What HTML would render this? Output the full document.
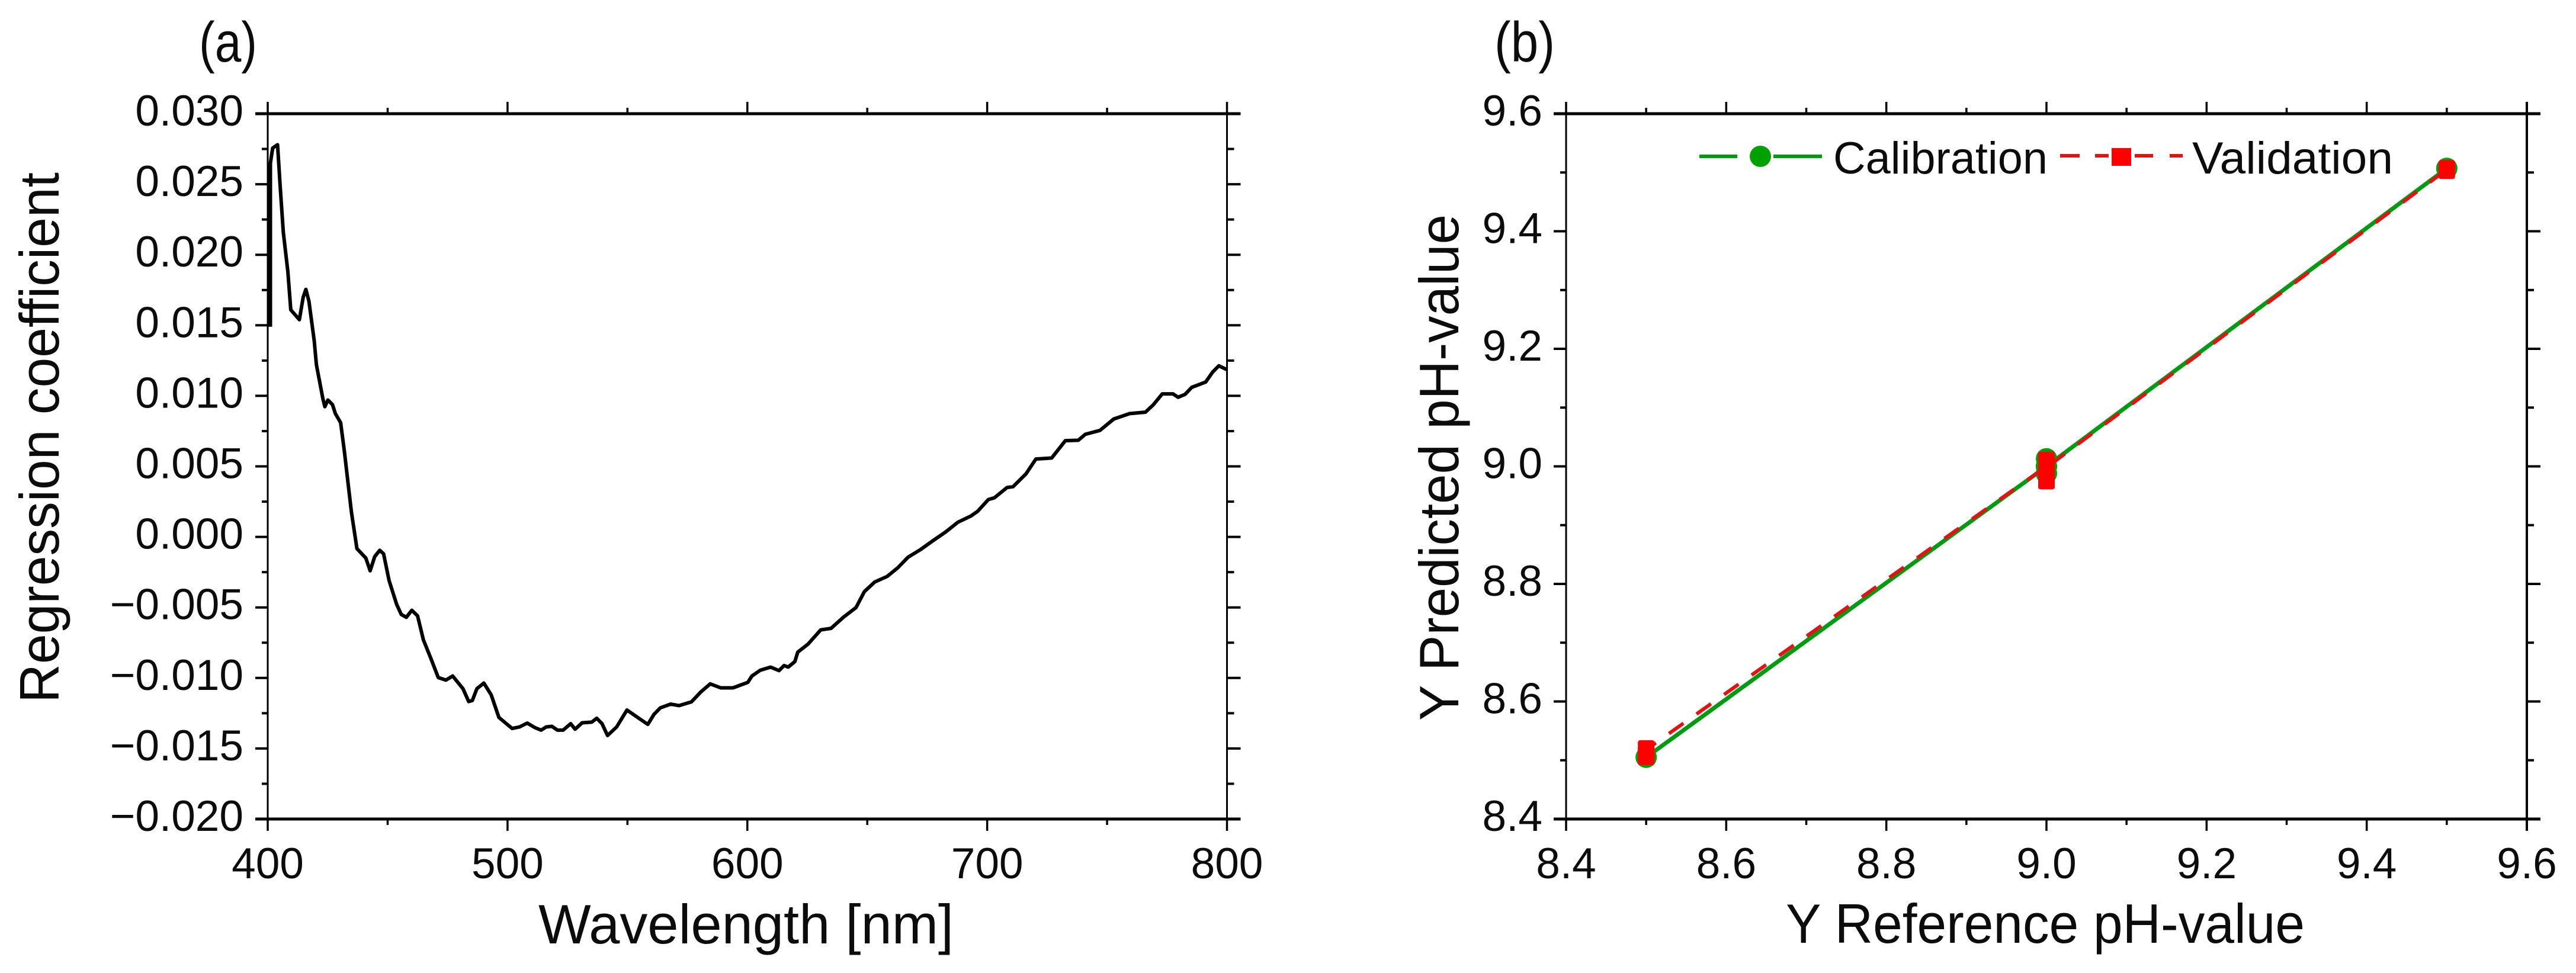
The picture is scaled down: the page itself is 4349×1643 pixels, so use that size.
<!DOCTYPE html>
<html lang="en">
<head>
<meta charset="utf-8">
<title>Regression coefficient and pH prediction charts</title>
<style>
  html,body{margin:0;padding:0;background:#fff;}
  svg{display:block;}
  text{font-family:"Liberation Sans",sans-serif;fill:#0c0c0c;}
  .tick-label{font-size:73px;}
  .axis-title{font-size:94px;}
  .panel-label{font-size:96px;}
  .legend-label{font-size:76px;}
</style>
</head>
<body>
<svg id="figure" xmlns="http://www.w3.org/2000/svg" width="4349" height="1643" viewBox="0 0 4349 1643">
  <rect x="0" y="0" width="4349" height="1643" fill="#ffffff"/>

  <g id="panel-a">
    <text class="panel-label" x="336" y="104" textLength="98" lengthAdjust="spacingAndGlyphs">(a)</text>
    <text class="axis-title" x="909" y="1593" textLength="701" lengthAdjust="spacingAndGlyphs">Wavelength [nm]</text>
    <text class="axis-title" transform="translate(99 1187) rotate(-90)" textLength="896" lengthAdjust="spacingAndGlyphs">Regression coefficient</text>
  </g>

  <g id="panel-b">
    <text class="panel-label" x="2523" y="104" textLength="102" lengthAdjust="spacingAndGlyphs">(b)</text>
    <text class="axis-title" x="3015" y="1592" textLength="876" lengthAdjust="spacingAndGlyphs">Y Reference pH-value</text>
    <text class="axis-title" transform="translate(2462 1217) rotate(-90)" textLength="855" lengthAdjust="spacingAndGlyphs">Y Predicted pH-value</text>

    <g>
      <g>
        <line x1="2869" y1="264" x2="2933" y2="264" stroke="#009a12" stroke-width="6"/>
        <line x1="2994" y1="264" x2="3076" y2="264" stroke="#009a12" stroke-width="6"/>
        <circle cx="2972" cy="264" r="18" fill="#00a000"/>
        <text class="legend-label" x="3095" y="293" textLength="362" lengthAdjust="spacingAndGlyphs">Calibration</text>
      </g>
      <g>
        <line x1="3478" y1="263" x2="3511" y2="263" stroke="#d81818" stroke-width="6"/>
        <line x1="3537" y1="263" x2="3560" y2="263" stroke="#d81818" stroke-width="6"/>
        <line x1="3604" y1="263" x2="3635" y2="263" stroke="#d81818" stroke-width="6"/>
        <line x1="3663" y1="263" x2="3685" y2="263" stroke="#d81818" stroke-width="6"/>
        <rect x="3565" y="250" width="33" height="30" fill="#ff0000"/>
        <text class="legend-label" x="3701" y="293" textLength="339" lengthAdjust="spacingAndGlyphs">Validation</text>
      </g>
    </g>
  </g>
</svg>

<script>
// ---- Panel (a) data ----
const wavelengths = [401.1,401.1,402.05,404.1,405.2,406.5,408.4,409.6,413.2,414.8,415.9,417.2,419.4,420.3,423,423.8,425.1,427,428.2,430.4,432,433.3,434.9,437.2,440.9,442.7,444.6,446.7,448.3,450.6,453.8,455.7,457.8,460.1,462.5,464.9,468,471.1,474.3,477.1,481.4,483.8,485.3,487.2,490.1,493.2,496.4,499.5,501.9,505,508.2,511.4,514,516.1,518.5,520.8,523.2,526.3,528.2,531.1,535.1,537.2,539.4,541.7,545.5,549.8,554.2,558.5,561.1,563.7,568,571.5,576.7,580.6,584.5,588.9,594,600.2,601.9,605.4,609.7,613.2,615.3,617,619.8,621,625.3,630.6,634.9,640.1,645.3,648.8,653.1,658.3,662.7,667,672.2,677.4,682.6,687.8,693.1,696,700.5,703,708.3,710.8,716.2,720.3,726.9,732.6,738,740.9,747,752.8,759.4,766,769.3,773,777.5,779.6,782.5,785.3,791.1,794,796.6,799.9];
const coefficients = [0.0149,0.0265,0.02756,0.0278,0.0248,0.0216,0.0188,0.0161,0.0154,0.0170,0.01755,0.0167,0.0139,0.0122,0.0098,0.00923,0.0097,0.00938,0.00874,0.0081,0.0060,0.0041,0.00176,-0.00083,-0.0015,-0.0024,-0.0014,-0.00095,-0.0012,-0.0031,-0.0048,-0.0055,-0.0057,-0.0052,-0.0056,-0.0073,-0.0086,-0.00997,-0.01015,-0.00986,-0.01076,-0.01167,-0.0116,-0.01076,-0.01036,-0.0112,-0.0128,-0.01324,-0.01358,-0.01347,-0.0132,-0.01352,-0.0137,-0.01347,-0.01343,-0.0137,-0.0137,-0.01324,-0.01363,-0.01318,-0.01313,-0.01286,-0.01324,-0.01408,-0.01347,-0.01227,-0.01279,-0.01329,-0.01257,-0.01212,-0.01185,-0.01196,-0.01169,-0.01099,-0.01042,-0.0107,-0.0107,-0.01031,-0.00986,-0.00945,-0.00923,-0.00948,-0.00912,-0.00923,-0.00884,-0.00817,-0.0076,-0.00659,-0.00648,-0.00569,-0.00501,-0.00388,-0.0032,-0.0028,-0.00219,-0.00144,-0.0009,-0.00027,0.00034,0.00104,0.00147,0.00181,0.00265,0.00277,0.0035,0.00356,0.00447,0.00552,0.00559,0.00682,0.00685,0.00727,0.00755,0.00836,0.00874,0.00884,0.00937,0.01014,0.01014,0.0099,0.0101,0.0106,0.01098,0.01168,0.01213,0.01186];
const xTicksA = [400,500,600,700,800];
const xMinorTicksA = [450,550,650,750];
const yTicksA = [0.03,0.025,0.02,0.015,0.01,0.005,0,-0.005,-0.01,-0.015,-0.02];
const yMinorTicksA = [0.0275,0.0225,0.0175,0.0125,0.0075,0.0025,-0.0025,-0.0075,-0.0125,-0.0175];
const yLabelsA = ["0.030","0.025","0.020","0.015","0.010","0.005","0.000","\u22120.005","\u22120.010","\u22120.015","\u22120.020"];
const xLabelsA = ["400","500","600","700","800"];

// ---- Panel (b) data ----
const calibrationRef = [8.5,9.0,9.0,9.0,9.0,9.5];
const calibrationPred = [8.505,9.0,8.988,9.013,9.0,9.507];
const validationRef = [8.5,8.5,9.0,9.0,9.0,9.0,9.5];
const validationPred = [8.508,8.518,9.0,8.977,9.009,8.998,9.505];
const xTicksB = [8.4,8.6,8.8,9.0,9.2,9.4,9.6];
const xMinorTicksB = [8.5,8.7,8.9,9.1,9.3,9.5];
const yTicksB = [8.4,8.6,8.8,9.0,9.2,9.4,9.6];
const yMinorTicksB = [8.5,8.7,8.9,9.1,9.3,9.5];
const xLabelsB = ["8.4","8.6","8.8","9.0","9.2","9.4","9.6"];
const yLabelsB = ["8.4","8.6","8.8","9.0","9.2","9.4","9.6"];

const NS = "http://www.w3.org/2000/svg";
const panelA = document.getElementById("panel-a");
const panelB = document.getElementById("panel-b");

const top_ = 192, bottom_ = 1383;
function xA(v){ return 452 + (v - 400) * (2071.5 - 452) / 400; }
function yA(v){ return top_ + (0.03 - v) * (bottom_ - top_) / 0.05; }
function xB(v){ return 2644 + (v - 8.4) * (4266 - 2644) / 1.2; }
function yB(v){ return bottom_ - (v - 8.4) * (bottom_ - top_) / 1.2; }

function seg(x1, y1, x2, y2, w){
  const l = document.createElementNS(NS, "line");
  l.setAttribute("x1", x1); l.setAttribute("y1", y1);
  l.setAttribute("x2", x2); l.setAttribute("y2", y2);
  l.setAttribute("stroke", "#000");
  l.setAttribute("stroke-width", w);
  return l;
}
function label(txt, x, y, anchor){
  const t = document.createElementNS(NS, "text");
  t.setAttribute("class", "tick-label");
  t.setAttribute("x", x); t.setAttribute("y", y);
  t.setAttribute("text-anchor", anchor);
  t.textContent = txt;
  return t;
}

function drawAxes(parent, sx, sy, left, right, xMajor, xMinor, yMajor, yMinor, xLabels, yLabels, labelRight, rightWidth){
  const frame = [
    seg(left - 21, top_, right + 23, top_, 5),
    seg(left - 21, bottom_, right + 23, bottom_, 5),
    seg(left, top_ - 20, left, bottom_ + 20, 3),
    seg(right, top_ - 20, right, bottom_ + 20, rightWidth)
  ];
  for (const f of frame) {
    
    
    parent.appendChild(f);
  }
  xMajor.forEach(function(v, i){
    const x = sx(v);
    const up = seg(x, top_, x, top_ - 20, 3.5);
    
    
    parent.appendChild(up);
    const down = seg(x, bottom_, x, bottom_ + 20, 3.5);
    
    
    parent.appendChild(down);
    const t = label(xLabels[i], x, 1483, "middle");
    
    
    parent.appendChild(t);
  });
  xMinor.forEach(function(v){
    const x = sx(v);
    const up = seg(x, top_, x, top_ - 10, 3.5);
    
    
    parent.appendChild(up);
    const down = seg(x, bottom_, x, bottom_ + 10, 3.5);
    
    
    parent.appendChild(down);
  });
  yMajor.forEach(function(v, i){
    const y = sy(v);
    const l = seg(left - 21, y, left, y, 4);
    
    
    parent.appendChild(l);
    const r = seg(right, y, right + 23, y, 4);
    
    
    parent.appendChild(r);
    const t = label(yLabels[i], labelRight, y + 20, "end");
    
    
    parent.appendChild(t);
  });
  yMinor.forEach(function(v){
    const y = sy(v);
    const l = seg(left - 10, y, left, y, 4);
    
    
    parent.appendChild(l);
    const r = seg(right, y, right + 12, y, 4);
    
    
    parent.appendChild(r);
  });
}

drawAxes(panelA, xA, yA, 452, xA(800), xTicksA, xMinorTicksA, yTicksA, yMinorTicksA, xLabelsA, yLabelsA, 411, 3);
drawAxes(panelB, xB, yB, 2644, xB(9.6), xTicksB, xMinorTicksB, yTicksB, yMinorTicksB, xLabelsB, yLabelsB, 2604, 4);

function pointsOf(xs, ys, sx, sy){
  return xs.map(function(x, i){ return sx(x).toFixed(1) + "," + sy(ys[i]).toFixed(1); }).join(" ");
}

// Panel (a) curve
const curve = document.createElementNS(NS, "polyline");


curve.setAttribute("points", pointsOf(wavelengths, coefficients, xA, yA));
curve.setAttribute("fill", "none");
curve.setAttribute("stroke", "#000");
curve.setAttribute("stroke-width", "6");
curve.setAttribute("stroke-linejoin", "round");
panelA.appendChild(curve);

// Panel (b) series
const calLine = document.createElementNS(NS, "polyline");


calLine.setAttribute("points", pointsOf(calibrationRef, calibrationPred, xB, yB));
calLine.setAttribute("fill", "none");
calLine.setAttribute("stroke", "#009a12");
calLine.setAttribute("stroke-width", "7");
panelB.appendChild(calLine);

calibrationRef.forEach(function(x, i){
  const c = document.createElementNS(NS, "circle");
  
  
  c.setAttribute("cx", xB(x));
  c.setAttribute("cy", yB(calibrationPred[i]));
  c.setAttribute("r", 18);
  c.setAttribute("fill", "#00a000");
  panelB.appendChild(c);
});

const valLine = document.createElementNS(NS, "polyline");


valLine.setAttribute("points", pointsOf(validationRef, validationPred, xB, yB));
valLine.setAttribute("fill", "none");
valLine.setAttribute("stroke", "#e01414");
valLine.setAttribute("stroke-width", "6");
valLine.setAttribute("stroke-dasharray", "30 27");
panelB.appendChild(valLine);

validationRef.forEach(function(x, i){
  const r = document.createElementNS(NS, "rect");
  
  
  r.setAttribute("x", xB(x) - 14);
  r.setAttribute("y", yB(validationPred[i]) - 16);
  r.setAttribute("width", 28);
  r.setAttribute("height", 32);
  r.setAttribute("rx", 4);
  r.setAttribute("fill", "#ff0000");
  panelB.appendChild(r);
});
</script>
</body>
</html>
